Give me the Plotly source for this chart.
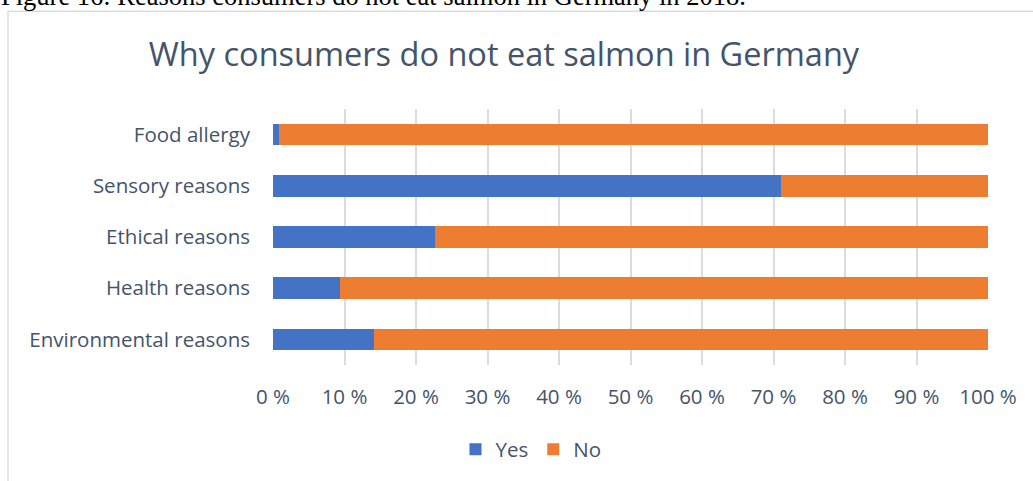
import plotly.graph_objects as go

categories = ["Environmental reasons", "Health reasons", "Ethical reasons", "Sensory reasons", "Food allergy"]
yes_values = [14.1, 9.4, 22.7, 71.1, 0.8]
no_values = [85.9, 90.6, 77.3, 28.9, 99.2]
tick_vals = [0, 10, 20, 30, 40, 50, 60, 70, 80, 90, 100]
tick_text = ["0 %", "10 %", "20 %", "30 %", "40 %", "50 %", "60 %", "70 %", "80 %", "90 %", "100 %"]

W, H = 1033, 481
L, R, T, B = 273, 45, 109, 114
PW, PH = W - L - R, H - T - B

def px_x(x):
    return (x - L) / PW

def px_y(y):
    return 1 - (y - T) / PH

FONT = "Open Sans"
TXT = "#44546A"

fig = go.Figure()
fig.add_trace(go.Bar(y=categories, x=yes_values, name="Yes", orientation="h",
                     marker=dict(color="#4472C4", line=dict(width=0))))
fig.add_trace(go.Bar(y=categories, x=no_values, name="No", orientation="h",
                     marker=dict(color="#ED7D31", line=dict(width=0))))

fig.update_layout(
    width=W, height=H,
    margin=dict(l=L, r=R, t=T, b=B),
    barmode="stack",
    bargap=0.58,
    paper_bgcolor="white",
    plot_bgcolor="white",
    font=dict(family=FONT, color=TXT),
    title=dict(text="Why consumers do not eat salmon in Germany",
               font=dict(family=FONT, size=32.5, color=TXT),
               x=px_x(504), xref="paper", xanchor="center",
               y=1 - 55 / H, yanchor="middle"),
    xaxis=dict(range=[0, 100], tickvals=tick_vals, ticktext=tick_text,
               showgrid=True, gridcolor="#D9DCE1", gridwidth=1.5,
               zeroline=False, showline=False, ticks="",
               ticklabelstandoff=17,
               tickfont=dict(family=FONT, size=20.5, color=TXT)),
    yaxis=dict(showgrid=False, zeroline=False, showline=False, ticks="",
               ticklabelstandoff=22,
               tickfont=dict(family=FONT, size=20.5, color=TXT)),
    legend=dict(orientation="h", x=px_x(531), xanchor="center",
                y=px_y(452), yanchor="middle",
                font=dict(family=FONT, size=20.5, color=TXT),
                itemwidth=30, traceorder="normal"),
    showlegend=True,
)

fig.add_shape(type="rect", xref="paper", yref="paper",
              x0=px_x(8), x1=px_x(1045), y0=px_y(10.5), y1=px_y(495),
              line=dict(color="#D9DDE3", width=1.5), fillcolor="rgba(0,0,0,0)",
              layer="below")

fig.add_annotation(text="Figure 16: Reasons consumers do not eat salmon in Germany in 2018.",
                   xref="paper", yref="paper", x=px_x(-1), y=px_y(12),
                   xanchor="left", yanchor="bottom", showarrow=False,
                   font=dict(family="Liberation Serif", size=26.5, color="black"))

fig.write_html("out.html")
